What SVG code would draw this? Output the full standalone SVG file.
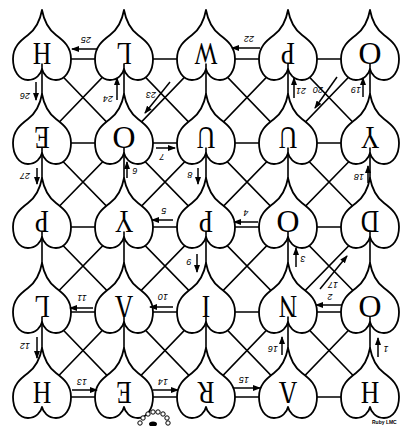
<svg xmlns="http://www.w3.org/2000/svg" width="401" height="426" viewBox="0 0 401 426">
<style>
.ln{stroke:#000;stroke-width:1.6;fill:none;stroke-linecap:round}
.ht{fill:#fff;stroke:#000;stroke-width:1.8;stroke-linejoin:round}
.lt{font-family:"Liberation Serif",serif;font-size:32px;fill:#000;text-anchor:middle;dominant-baseline:central}
.ar{stroke:#000;stroke-width:1.5;fill:none;marker-end:url(#ah)}
.lb{font-family:"Liberation Sans",sans-serif;font-size:9px;fill:#000;text-anchor:middle;dominant-baseline:central;font-style:italic}
.sg{font-family:"Liberation Sans",sans-serif;font-size:5px;font-weight:bold;fill:#000}
.bd{fill:#fff;stroke:#000;stroke-width:1}
</style>
<defs>
<path id="hp" d="M0,-49 C2,-38 6,-30 14,-24 C22,-18 29,-12 29,0 C29,12 23,21 14,21 C6,21 1,15 0,10 C-1,15 -6,21 -14,21 C-23,21 -29,12 -29,0 C-29,-12 -22,-18 -14,-24 C-6,-30 -2,-38 0,-49 Z"/>
<marker id="ah" viewBox="0 0 8 6" refX="7" refY="3" markerWidth="8" markerHeight="6" markerUnits="userSpaceOnUse" orient="auto"><path d="M0,0 L8,3 L0,6 Z" fill="#000"/></marker>
</defs>
<g id="lattice">
<path class="ln" d="M42,59H370M42,143H370M42,227H370M42,312H370M42,397H370"/>
<path class="ln" d="M42,55L124,140L206,55L288,140L370,55M42,140L124,55L206,140L288,55L370,140"/>
<path class="ln" d="M42,140L124,224L206,140L288,224L370,140M42,224L124,140L206,224L288,140L370,224"/>
<path class="ln" d="M42,224L124,308L206,224L288,308L370,224M42,308L124,224L206,308L288,224L370,308"/>
<path class="ln" d="M42,308L124,393L206,308L288,393L370,308M42,393L124,308L206,393L288,308L370,393"/>
</g>
<g id="nodes">
<g id="n11"><use href="#hp" class="ht" x="42" y="59"/><text class="lt" transform="translate(42 54) rotate(180) scale(0.8 1)">H</text></g>
<g id="n12"><use href="#hp" class="ht" x="124" y="59"/><text class="lt" transform="translate(124 54) rotate(180) scale(0.8 1)">L</text></g>
<g id="n13"><use href="#hp" class="ht" x="206" y="59"/><text class="lt" transform="translate(206 54) rotate(180) scale(0.75 1)">W</text></g>
<g id="n14"><use href="#hp" class="ht" x="288" y="59"/><text class="lt" transform="translate(288 54) rotate(180) scale(0.8 1)">P</text></g>
<g id="n15"><use href="#hp" class="ht" x="370" y="59"/><text class="lt" transform="translate(370 54) rotate(180)">O</text></g>
<g id="n21"><use href="#hp" class="ht" x="42" y="143"/><text class="lt" transform="translate(42 138) rotate(180) scale(0.8 1)">E</text></g>
<g id="n22"><use href="#hp" class="ht" x="124" y="143"/><text class="lt" transform="translate(124 138) rotate(180)">O</text></g>
<g id="n23"><use href="#hp" class="ht" x="206" y="143"/><text class="lt" transform="translate(206 138) rotate(180) scale(0.8 1)">U</text></g>
<g id="n24"><use href="#hp" class="ht" x="288" y="143"/><text class="lt" transform="translate(288 138) rotate(180) scale(0.8 1)">U</text></g>
<g id="n25"><use href="#hp" class="ht" x="370" y="143"/><text class="lt" transform="translate(370 138) rotate(180) scale(0.8 1)">Y</text></g>
<g id="n31"><use href="#hp" class="ht" x="42" y="227"/><text class="lt" transform="translate(42 222) rotate(180) scale(0.8 1)">P</text></g>
<g id="n32"><use href="#hp" class="ht" x="124" y="227"/><text class="lt" transform="translate(124 222) rotate(180) scale(0.8 1)">Y</text></g>
<g id="n33"><use href="#hp" class="ht" x="206" y="227"/><text class="lt" transform="translate(206 222) rotate(180) scale(0.8 1)">P</text></g>
<g id="n34"><use href="#hp" class="ht" x="288" y="227"/><text class="lt" transform="translate(288 222) rotate(180)">O</text></g>
<g id="n35"><use href="#hp" class="ht" x="370" y="227"/><text class="lt" transform="translate(370 222) rotate(180) scale(0.8 1)">D</text></g>
<g id="n41"><use href="#hp" class="ht" x="42" y="312"/><text class="lt" transform="translate(42 307) rotate(180) scale(0.8 1)">L</text></g>
<g id="n42"><use href="#hp" class="ht" x="124" y="312"/><text class="lt" transform="translate(124 307) rotate(180) scale(0.8 1)">Λ</text></g>
<g id="n43"><use href="#hp" class="ht" x="206" y="312"/><text class="lt" transform="translate(206 307) rotate(180) scale(0.8 1)">I</text></g>
<g id="n44"><use href="#hp" class="ht" x="288" y="312"/><text class="lt" transform="translate(288 307) rotate(180) scale(0.8 1)">N</text></g>
<g id="n45"><use href="#hp" class="ht" x="370" y="312"/><text class="lt" transform="translate(370 307) rotate(180)">O</text></g>
<g id="n51"><use href="#hp" class="ht" x="42" y="397"/><text class="lt" transform="translate(42 393) rotate(180) scale(0.8 1)">H</text></g>
<g id="n52"><use href="#hp" class="ht" x="124" y="397"/><text class="lt" transform="translate(124 393) rotate(180) scale(0.8 1)">E</text></g>
<g id="n53"><use href="#hp" class="ht" x="206" y="397"/><text class="lt" transform="translate(206 393) rotate(180) scale(0.8 1)">R</text></g>
<g id="n54"><use href="#hp" class="ht" x="288" y="397"/><text class="lt" transform="translate(288 393) rotate(180) scale(0.8 1)">Λ</text></g>
<g id="n55"><use href="#hp" class="ht" x="370" y="397"/><text class="lt" transform="translate(370 393) rotate(180) scale(0.8 1)">H</text></g>
</g>
<g id="connectors">
<path class="ln" d="M42,64V94M124,64V94M206,64V94M288,64V94M370,64V94M42,148V178M124,148V178M206,148V178M288,148V178M370,148V178M42,232V263M124,232V263M206,232V263M288,232V263M370,232V263M42,317V348M124,317V348M206,317V348M288,317V348M370,317V348"/>
<g id="arrows">
<line class="ar" x1="378" y1="357" x2="378" y2="338"/>
<line class="ar" x1="342" y1="305" x2="316" y2="305"/>
<line class="ar" x1="296" y1="267" x2="296" y2="248"/>
<line class="ar" x1="258" y1="222" x2="234" y2="222"/>
<line class="ar" x1="173" y1="220" x2="152" y2="220"/>
<line class="ar" x1="127" y1="178" x2="127" y2="162"/>
<line class="ar" x1="156" y1="148" x2="175" y2="148"/>
<line class="ar" x1="198" y1="168" x2="198" y2="184"/>
<line class="ar" x1="197" y1="254" x2="197" y2="272"/>
<line class="ar" x1="173" y1="307" x2="150" y2="307"/>
<line class="ar" x1="93" y1="308" x2="70" y2="308"/>
<line class="ar" x1="37" y1="337" x2="37" y2="358"/>
<line class="ar" x1="72" y1="390" x2="97" y2="390"/>
<line class="ar" x1="153" y1="390" x2="178" y2="390"/>
<line class="ar" x1="233" y1="388" x2="260" y2="388"/>
<line class="ar" x1="282" y1="355" x2="282" y2="337"/>
<line class="ar" x1="320" y1="289" x2="347" y2="256"/>
<line class="ar" x1="368" y1="183" x2="368" y2="166"/>
<line class="ar" x1="363" y1="97" x2="363" y2="78"/>
<line class="ar" x1="337" y1="77" x2="315" y2="108"/>
<line class="ar" x1="294" y1="98" x2="294" y2="78"/>
<line class="ar" x1="260" y1="48" x2="232" y2="48"/>
<line class="ar" x1="170" y1="82" x2="145" y2="113"/>
<line class="ar" x1="117" y1="100" x2="117" y2="78"/>
<line class="ar" x1="97" y1="49" x2="72" y2="49"/>
<line class="ar" x1="36" y1="82" x2="36" y2="100"/>
<line class="ar" x1="37" y1="168" x2="37" y2="184"/>
</g>
<g id="labels">
<text class="lb" transform="rotate(180 386 349)" x="386" y="349">1</text>
<text class="lb" transform="rotate(180 330 297)" x="330" y="297">2</text>
<text class="lb" transform="rotate(180 303 259)" x="303" y="259">3</text>
<text class="lb" transform="rotate(180 246 213)" x="246" y="213">4</text>
<text class="lb" transform="rotate(180 164 211)" x="164" y="211">5</text>
<text class="lb" transform="rotate(180 135 171)" x="135" y="171">6</text>
<text class="lb" transform="rotate(180 162 157)" x="162" y="157">7</text>
<text class="lb" transform="rotate(180 190 175)" x="190" y="175">8</text>
<text class="lb" transform="rotate(180 189 262)" x="189" y="262">9</text>
<text class="lb" transform="rotate(180 163 297)" x="163" y="297">10</text>
<text class="lb" transform="rotate(180 82 298)" x="82" y="298">11</text>
<text class="lb" transform="rotate(180 25 346)" x="25" y="346">12</text>
<text class="lb" transform="rotate(180 82 382)" x="82" y="382">13</text>
<text class="lb" transform="rotate(180 163 382)" x="163" y="382">14</text>
<text class="lb" transform="rotate(180 244 380)" x="244" y="380">15</text>
<text class="lb" transform="rotate(180 273 349)" x="273" y="349">16</text>
<text class="lb" transform="rotate(180 333 285)" x="333" y="285">17</text>
<text class="lb" transform="rotate(180 359 177)" x="359" y="177">18</text>
<text class="lb" transform="rotate(180 356 90)" x="356" y="90">19</text>
<text class="lb" transform="rotate(180 318 90)" x="318" y="90">20</text>
<text class="lb" transform="rotate(180 301 91)" x="301" y="91">21</text>
<text class="lb" transform="rotate(180 249 39)" x="249" y="39">22</text>
<text class="lb" transform="rotate(180 151 95)" x="151" y="95">23</text>
<text class="lb" transform="rotate(180 108 99)" x="108" y="99">24</text>
<text class="lb" transform="rotate(180 86 40)" x="86" y="40">25</text>
<text class="lb" transform="rotate(180 25 96)" x="25" y="96">26</text>
<text class="lb" transform="rotate(180 25 176)" x="25" y="176">27</text>
</g>
</g>
<g id="beads">
<circle class="bd" cx="140" cy="423" r="2.2"/><circle class="bd" cx="143" cy="418" r="2.2"/><circle class="bd" cx="148" cy="414" r="2.2"/><circle class="bd" cx="153" cy="412" r="2.2"/><circle class="bd" cx="158" cy="412" r="2.2"/><circle class="bd" cx="163" cy="414" r="2.2"/><circle class="bd" cx="167" cy="418" r="2.2"/><circle class="bd" cx="168" cy="423" r="2.2"/>
<ellipse cx="153" cy="424" rx="4" ry="2.5" fill="#000"/>
</g>
<text class="sg" x="372" y="424">Ruby LMC</text>
</svg>
